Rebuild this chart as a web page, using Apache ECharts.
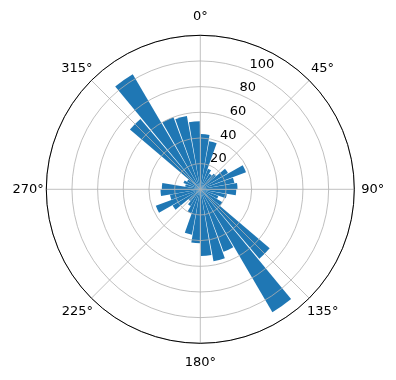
<!DOCTYPE html>
<html>
<head>
<meta charset="utf-8">
<script src="https://cdn.jsdelivr.net/npm/echarts@6/dist/echarts.min.js"></script>
<style>
html,body{margin:0;padding:0;background:#fff;}
#chart{width:396px;height:380px;}
</style>
</head>
<body>
<div id="chart"></div>
<script>
// Bin centres (degrees, clockwise from north)
var binCenters = [5,15,25,35,45,55,65,75,85,95,105,115,125,135,145,155,165,175,
                  185,195,205,215,225,235,245,255,265,275,285,295,305,315,325,335,345,355];
// Bar heights per bin
var barValues = [43,38,17,14,16,25,38,27,29,28,21,15,20,71,111,52,57,52,
                 42,36,20,15,12,25,37,24,31,30,12,14,12,72,104,60,58,53];
// Angular tick labels
var angleTicks = [0,45,90,135,180,225,270,315];
// Radial tick labels
var radialTicks = [20,40,60,80,100];
var radialMax = 120;

var C = [200.3, 189.3];
var R = 154;
var font = 'DejaVu Sans';

// per-label padding so every angle label is centred ~19.5px outside the rim
var lab = {fontFamily:font, fontSize:13, color:'#000'};
function pad(p){ return Object.assign({padding:p}, lab); }
var angleRich = {
  a0:   pad([0,0,15,0]),
  a45:  pad([0,0,7.5,4]),
  a90:  pad([0,0,0,10]),
  a135: pad([9.5,0,0,0]),
  a180: pad([16,0,0,0]),
  a225: pad([9.5,0.5,0,0]),
  a270: pad([0,5.5,0,0]),
  a315: pad([0,1,7,0])
};

var chart = echarts.init(document.getElementById('chart'), null, {renderer:'canvas'});
chart.setOption({
  animation:false,
  backgroundColor:'#fff',
  polar:[
    {center:C, radius:R},
    {center:C, radius:R},
    {center:C, radius:R}
  ],
  angleAxis:[
    { // grid + angle labels
      polarIndex:0, type:'value', min:0, max:360, interval:45,
      startAngle:90, clockwise:true, z:5,
      axisLine:{show:true, lineStyle:{color:'#000', width:1}},
      axisTick:{show:false},
      splitLine:{show:true, lineStyle:{color:'#b0b0b0', width:0.8}},
      axisLabel:{
        show:true, margin:-3,
        fontFamily:font, fontSize:13, color:'#000',
        rich:angleRich,
        formatter:function(v){ return angleTicks.indexOf(v) >= 0 ? '{a' + v + '|' + v + '°}' : ''; }
      }
    },
    { // bars
      polarIndex:1, type:'category', data:binCenters, startAngle:90, clockwise:true,
      boundaryGap:true,
      axisLine:{show:false}, axisTick:{show:false}, axisLabel:{show:false}, splitLine:{show:false}
    },
    { // radial labels carrier
      polarIndex:2, type:'value', min:0, max:360, startAngle:67.5, clockwise:true,
      axisLine:{show:false}, axisTick:{show:false}, axisLabel:{show:false}, splitLine:{show:false}
    }
  ],
  radiusAxis:[
    {
      polarIndex:0, type:'value', min:0, max:radialMax, interval:20, z:5,
      axisLine:{show:false}, axisTick:{show:false}, axisLabel:{show:false},
      splitLine:{show:true, lineStyle:{color:'#b0b0b0', width:0.8}}
    },
    {
      polarIndex:1, type:'value', min:0, max:radialMax,
      axisLine:{show:false}, axisTick:{show:false}, axisLabel:{show:false}, splitLine:{show:false}
    },
    {
      polarIndex:2, type:'value', min:0, max:radialMax, interval:20,
      axisLine:{show:false}, axisTick:{show:false}, splitLine:{show:false},
      axisLabel:{
        show:true, margin:0, align:'left', verticalAlign:'bottom',
        fontFamily:font, fontSize:13, color:'#000',
        formatter:function(v){ return radialTicks.indexOf(v) >= 0 ? String(v) : ''; }
      }
    }
  ],
  series:[{
    type:'bar', coordinateSystem:'polar', polarIndex:1,
    data:barValues, barCategoryGap:'8%', z:2,
    itemStyle:{color:'#1f77b4'}
  }]
});
</script>
</body>
</html>
